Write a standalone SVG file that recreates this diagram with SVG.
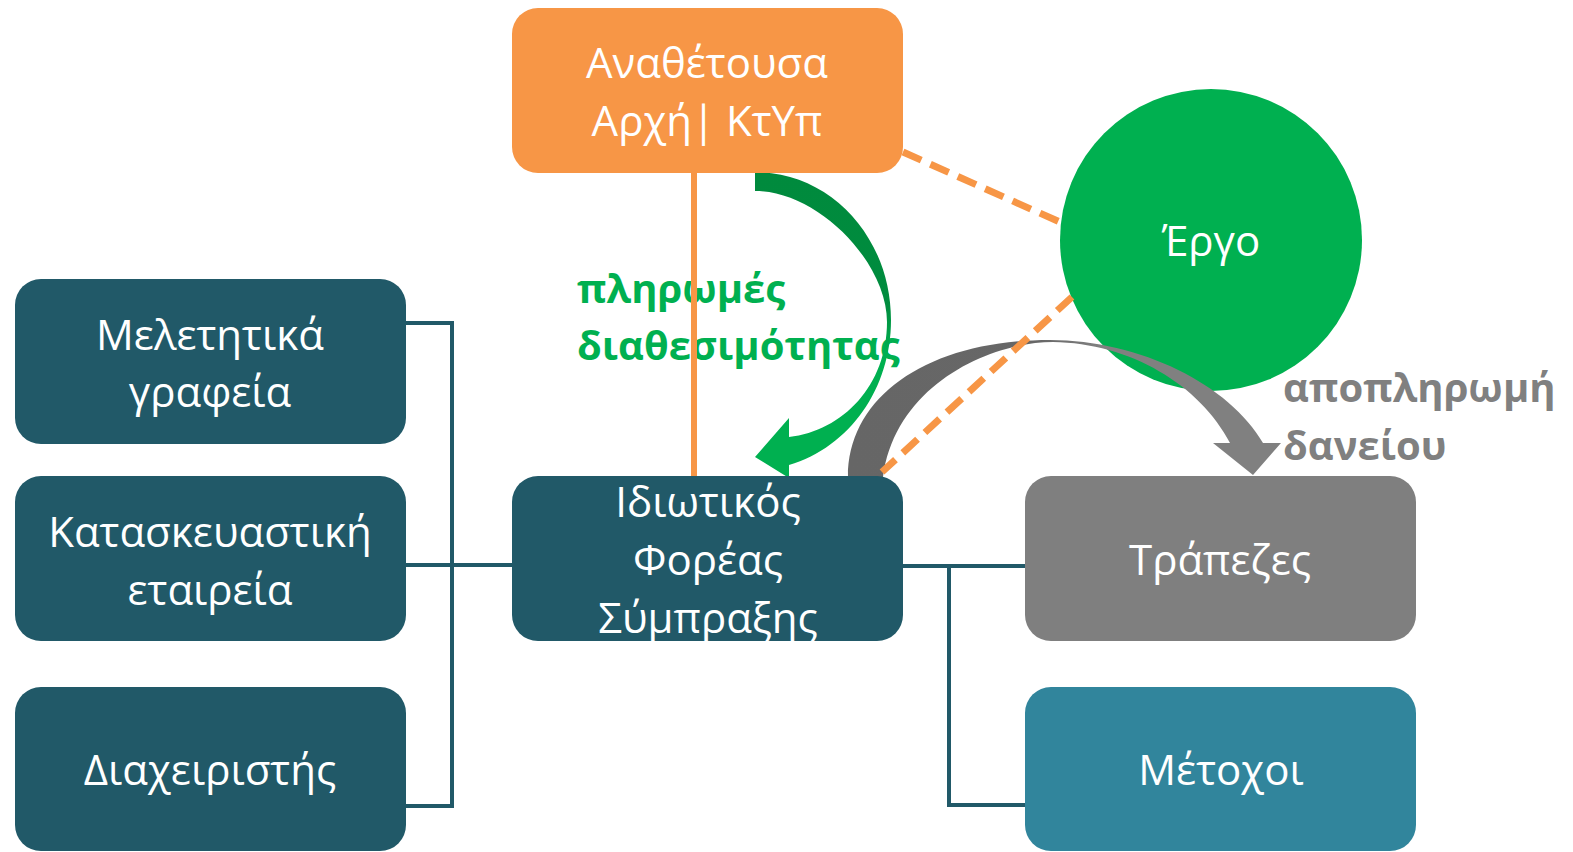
<svg xmlns="http://www.w3.org/2000/svg" width="1573" height="852" viewBox="0 0 1573 852">
<defs>
<linearGradient id="gGreen" gradientUnits="userSpaceOnUse" x1="0" y1="172" x2="0" y2="478">
<stop offset="0" stop-color="#008A3D"/>
<stop offset="0.44" stop-color="#008C3E"/>
<stop offset="0.59" stop-color="#00B050"/>
<stop offset="1" stop-color="#00B050"/>
</linearGradient>
<linearGradient id="gGray" gradientUnits="userSpaceOnUse" x1="848" y1="0" x2="1282" y2="0">
<stop offset="0" stop-color="#666666"/>
<stop offset="0.44" stop-color="#676767"/>
<stop offset="0.58" stop-color="#808080"/>
<stop offset="1" stop-color="#808080"/>
</linearGradient>
</defs>
<style>
.dark{fill:#215968}
.t{font-family:"Open Sans","Noto Sans","DejaVu Sans",sans-serif;font-size:42px;fill:#FFFFFF;text-anchor:middle}
.lbl{font-family:"Open Sans","Noto Sans","DejaVu Sans",sans-serif;font-size:40px;font-weight:700}
.line{fill:none;stroke:#215968;stroke-width:4}
.orange{fill:none;stroke:#F79646;stroke-width:6}
.dash{stroke-width:7;stroke-dasharray:20 10}
</style>
<rect width="1573" height="852" fill="#FFFFFF"/>

<g id="node-ergo">
<circle cx="1211" cy="240" r="151" fill="#00B050"/>
<text class="t" x="1211" y="256">Έργο</text>
</g>

<g id="edge-labels">
<text class="lbl" fill="#00B050" x="577" y="303">πληρωμές</text>
<text class="lbl" fill="#00B050" x="577" y="360">διαθεσιμότητας</text>
<text class="lbl" fill="#808080" x="1283" y="402">αποπληρωμή</text>
<text class="lbl" fill="#808080" x="1283" y="460">δανείου</text>
</g>

<g id="connectors">
<path id="arrow-payments" d="M 755 172 C 831 172 891 238 891 320 C 891 388 850 447 789 465 L 789 478 L 755 457 L 789 418 L 789 437 C 843 431 887 385 887 322 C 887 262 818 191 755 191 Z" fill="url(#gGreen)"/>
<path id="arrow-repayment" d="M 848 477 C 848 395 930 340 1050 340 C 1140 340 1230 385 1263 443 L 1281 443 L 1253 475 L 1213 443 L 1230 443 C 1200 385 1130 343 1053 342 C 990 342 895 385 883 477 Z" fill="url(#gGray)"/>
<line class="orange" x1="694" y1="173" x2="694" y2="476"/>
<line class="orange dash" x1="903" y1="152" x2="1062" y2="223"/>
<line class="orange dash" x1="1072" y1="297" x2="882" y2="472"/>
<path class="line" d="M 405 323 H 452 V 806 H 405"/>
<path class="line" d="M 405 565 H 513"/>
<path class="line" d="M 902 566 H 1026"/>
<path class="line" d="M 949 566 V 805 H 1026"/>
</g>

<g id="node-authority">
<rect x="512" y="8" width="391" height="165" rx="26" fill="#F79646"/>
<text class="t" x="707" y="78">Αναθέτουσα</text>
<text class="t" x="707" y="136">Αρχή| ΚτΥπ</text>
</g>

<g id="node-studies">
<rect class="dark" x="15" y="279" width="391" height="165" rx="26"/>
<text class="t" x="210" y="350">Μελετητικά</text>
<text class="t" x="210" y="407">γραφεία</text>
</g>

<g id="node-construction">
<rect class="dark" x="15" y="476" width="391" height="165" rx="26"/>
<text class="t" x="210" y="547">Κατασκευαστική</text>
<text class="t" x="210" y="605">εταιρεία</text>
</g>

<g id="node-operator">
<rect class="dark" x="15" y="687" width="391" height="164" rx="26"/>
<text class="t" x="210" y="785">Διαχειριστής</text>
</g>

<g id="node-spv">
<rect class="dark" x="512" y="476" width="391" height="165" rx="26"/>
<text class="t" x="708" y="517">Ιδιωτικός</text>
<text class="t" x="708" y="575">Φορέας</text>
<text class="t" x="708" y="633">Σύμπραξης</text>
</g>

<g id="node-banks">
<rect x="1025" y="476" width="391" height="165" rx="26" fill="#7F7F7F"/>
<text class="t" x="1220" y="575">Τράπεζες</text>
</g>

<g id="node-shareholders">
<rect x="1025" y="687" width="391" height="164" rx="26" fill="#31859C"/>
<text class="t" x="1221" y="785">Μέτοχοι</text>
</g>
</svg>
